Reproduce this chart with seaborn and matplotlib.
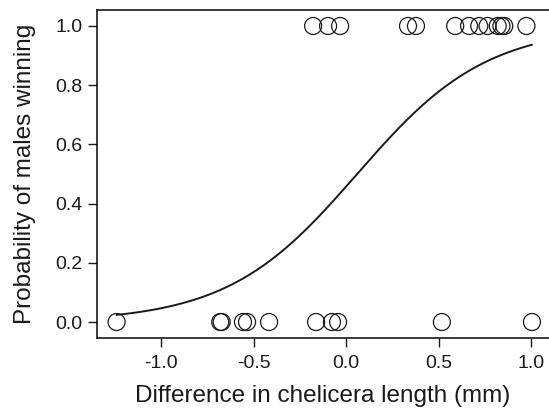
import numpy as np
import pandas as pd
import matplotlib
matplotlib.use("Agg")
import matplotlib.pyplot as plt
import seaborn as sns

# Observed outcomes (1 = male won, 0 = male lost)
x_won = [-0.178, -0.097, -0.032, 0.335, 0.378, 0.59, 0.665, 0.72, 0.765, 0.82, 0.84, 0.855, 0.975]
x_lost = [-1.24, -0.68, -0.672, -0.557, -0.535, -0.416, -0.162, -0.076, -0.043, 0.518, 1.005]

# Fitted logistic model parameters
intercept = -0.171
slope = 2.85

xticks = [-1.0, -0.5, 0.0, 0.5, 1.0]
yticks = [0.0, 0.2, 0.4, 0.6, 0.8, 1.0]

sns.set_theme(style="ticks")
plt.rcParams['font.family'] = ['Liberation Sans', 'DejaVu Sans']

df = pd.DataFrame({
    "diff": x_won + x_lost,
    "win": [1.0] * len(x_won) + [0.0] * len(x_lost),
})

xs = np.linspace(min(df["diff"]), max(df["diff"]), 200)
curve = pd.DataFrame({"diff": xs, "p": 1 / (1 + np.exp(-(intercept + slope * xs)))})

fig = plt.figure(figsize=(5.49, 4.11), dpi=100)
ax = fig.add_axes([97/549, 73/411, 1 - 97/549, (338 - 10)/411])

sns.lineplot(data=curve, x="diff", y="p", ax=ax, color="#1a1a1a", linewidth=1.4)
sns.scatterplot(data=df, x="diff", y="win", ax=ax, s=150, facecolor="none",
                edgecolor="#1a1a1a", linewidth=0.9, zorder=3)

ax.set_xlim(-1.346, 1.097)
ax.set_ylim(-0.054, 1.054)
ax.set_xticks(xticks)
ax.set_xticklabels([f"{t:.1f}" for t in xticks])
ax.set_yticks(yticks)
ax.set_yticklabels([f"{t:.1f}" for t in yticks])
ax.tick_params(direction="out", length=6.5, width=1, colors="#1a1a1a", labelsize=14, pad=4)
ax.tick_params(axis="x", pad=6)
for s in ["left", "bottom", "top"]:
    ax.spines[s].set_linewidth(1.2)
    ax.spines[s].set_color("#1a1a1a")
ax.spines["right"].set_visible(False)
ax.set_xlabel("Difference in chelicera length (mm)", fontsize=17.5, color="#1a1a1a", labelpad=9)
ax.set_ylabel("Probability of males winning", fontsize=17.5, color="#1a1a1a", labelpad=14)

fig.savefig("out.png", dpi=100)
